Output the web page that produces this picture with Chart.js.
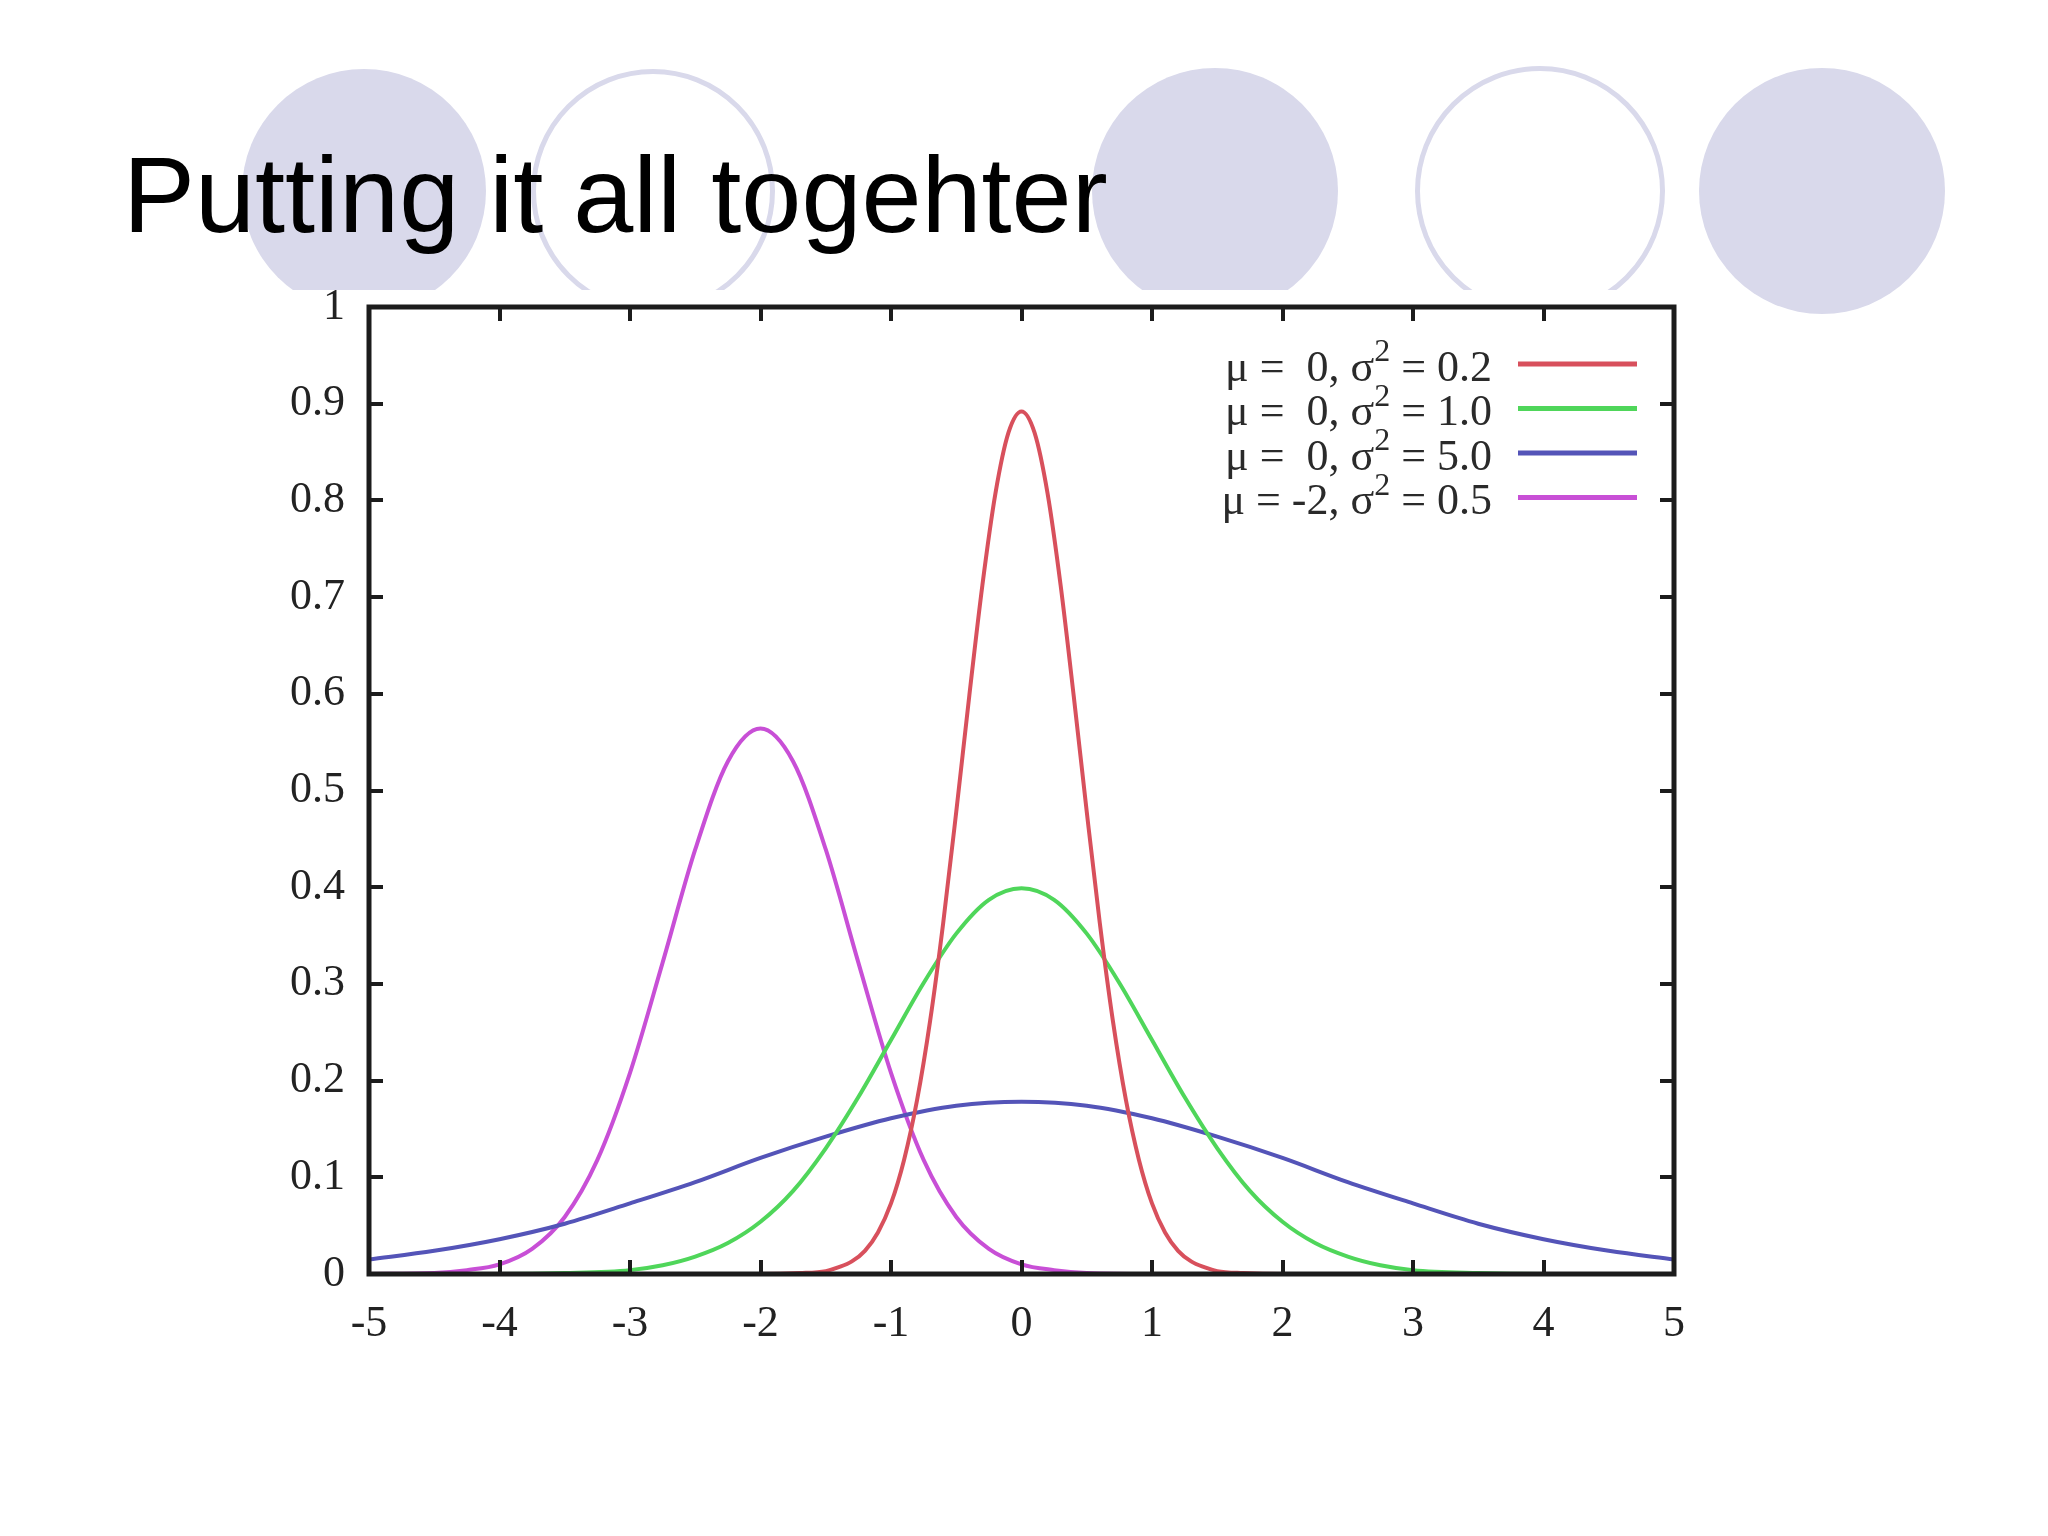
<!DOCTYPE html>
<html>
<head>
<meta charset="utf-8">
<title>Putting it all togehter</title>
<script src="https://cdn.jsdelivr.net/npm/chart.js@4.4.1/dist/chart.umd.min.js"></script>
<style>
  html, body { margin: 0; padding: 0; background: #fff; }
  body { width: 2048px; height: 1536px; position: relative; overflow: hidden; }
  .dot { position: absolute; border-radius: 50%; box-sizing: border-box; }
  .dot.fill { background: #d9d9eb; }
  .dot.ring { border: 5px solid #d9d9eb; }
  h1 { position: absolute; left: 123px; top: 141px; margin: 0; font: 400 108px/108px "Liberation Sans", Arial, sans-serif; color: #000; white-space: nowrap; }
  #chart { position: absolute; left: 0; top: 0; }
</style>
</head>
<body>
<div class="dot fill" style="left:242px;top:69px;width:244px;height:244px"></div>
<div class="dot ring" style="left:531px;top:69px;width:244px;height:244px"></div>
<div class="dot fill" style="left:1092px;top:68px;width:246px;height:246px"></div>
<div class="dot ring" style="left:1415px;top:66px;width:250px;height:250px"></div>
<div class="dot fill" style="left:1699px;top:68px;width:246px;height:246px"></div>
<h1>Putting it all togehter</h1>
<canvas id="chart" width="2048" height="1536"></canvas>
<script>
// tick labels
const xTickLabels = ['-5', '-4', '-3', '-2', '-1', '0', '1', '2', '3', '4', '5'];
const yTickLabels = ['0', '0.1', '0.2', '0.3', '0.4', '0.5', '0.6', '0.7', '0.8', '0.9', '1'];

// legend entries, top to bottom
const seriesLabels = ['μ =  0, σ² = 0.2', 'μ =  0, σ² = 1.0', 'μ =  0, σ² = 5.0', 'μ = -2, σ² = 0.5'];

// mu = 0, var = 0.2 (red)
const redX = [-5, -2, -1.7, -1.5, -1.4, -1.3, -1.2, -1.1, -1.0, -0.9, -0.8, -0.7, -0.6, -0.5, -0.4, -0.3, -0.2, -0.1,
  0, 0.1, 0.2, 0.3, 0.4, 0.5, 0.6, 0.7, 0.8, 0.9, 1.0, 1.1, 1.2, 1.3, 1.4, 1.5, 1.7, 2, 5];
const redY = [0, 0, 0.001, 0.003, 0.007, 0.013, 0.024, 0.043, 0.073, 0.118, 0.180, 0.262, 0.363, 0.478, 0.598, 0.712, 0.807, 0.870,
  0.892, 0.870, 0.807, 0.712, 0.598, 0.478, 0.363, 0.262, 0.180, 0.118, 0.073, 0.043, 0.024, 0.013, 0.007, 0.003, 0.001, 0, 0];

// mu = 0, var = 1.0 (green)
const greenX = [-5, -4, -3.5, -3, -2.75, -2.5, -2.25, -2, -1.75, -1.5, -1.25, -1, -0.75, -0.5, -0.25,
  0, 0.25, 0.5, 0.75, 1, 1.25, 1.5, 1.75, 2, 2.25, 2.5, 2.75, 3, 3.5, 4, 5];
const greenY = [0, 0, 0.001, 0.004, 0.009, 0.018, 0.032, 0.054, 0.086, 0.130, 0.183, 0.242, 0.301, 0.352, 0.387,
  0.399, 0.387, 0.352, 0.301, 0.242, 0.183, 0.130, 0.086, 0.054, 0.032, 0.018, 0.009, 0.004, 0.001, 0, 0];

// mu = 0, var = 5.0 (blue)
const blueX = [-5, -4.5, -4, -3.5, -3, -2.5, -2, -1.5, -1, -0.5, 0, 0.5, 1, 1.5, 2, 2.5, 3, 3.5, 4, 4.5, 5];
const blueY = [0.015, 0.024, 0.036, 0.052, 0.073, 0.095, 0.120, 0.142, 0.161, 0.174, 0.178,
  0.174, 0.161, 0.142, 0.120, 0.095, 0.073, 0.052, 0.036, 0.024, 0.015];

// mu = -2, var = 0.5 (magenta)
const magentaX = [-5, -4.5, -4.25, -4, -3.75, -3.5, -3.25, -3, -2.75, -2.5, -2.25, -2,
  -1.75, -1.5, -1.25, -1, -0.75, -0.5, -0.25, 0, 0.25, 0.5, 1, 5];
const magentaY = [0, 0.001, 0.004, 0.010, 0.026, 0.059, 0.118, 0.208, 0.322, 0.439, 0.530, 0.564,
  0.530, 0.439, 0.322, 0.208, 0.118, 0.059, 0.026, 0.010, 0.004, 0.001, 0, 0];

function toPoints(xs, ys) {
  return xs.map((x, i) => ({ x: x, y: ys[i] }));
}

const serifFont = '"Liberation Serif", "Times New Roman", serif';

// white sheet behind the plot (covers the bottom of the circles)
const sheetPlugin = {
  id: 'sheet',
  beforeDraw(chart) {
    const ctx = chart.ctx;
    ctx.save();
    ctx.fillStyle = '#ffffff';
    ctx.fillRect(200, 290, 1500, 1246);
    ctx.restore();
  }
};

// gnuplot style border with inward ticks on all four sides
const framePlugin = {
  id: 'frame',
  afterDatasetsDraw(chart) {
    const { ctx, chartArea: a, scales } = chart;
    const len = 14;
    ctx.save();
    ctx.strokeStyle = '#1c1c1c';
    ctx.lineWidth = 4;
    ctx.beginPath();
    scales.x.ticks.forEach(t => {
      const px = Math.round(scales.x.getPixelForValue(t.value));
      ctx.moveTo(px, a.bottom); ctx.lineTo(px, a.bottom - len);
      ctx.moveTo(px, a.top); ctx.lineTo(px, a.top + len);
    });
    scales.y.ticks.forEach(t => {
      const py = Math.round(scales.y.getPixelForValue(t.value));
      ctx.moveTo(a.left, py); ctx.lineTo(a.left + len, py);
      ctx.moveTo(a.right, py); ctx.lineTo(a.right - len, py);
    });
    ctx.stroke();
    ctx.lineWidth = 5;
    ctx.strokeRect(a.left, a.top, a.right - a.left, a.bottom - a.top);
    ctx.restore();
  }
};

// key in the upper right corner: text first, line sample after it
const keyPlugin = {
  id: 'key',
  afterDraw(chart) {
    const { ctx, chartArea: a } = chart;
    const mainFont = '44px ' + serifFont;
    const supFont = '32px ' + serifFont;
    ctx.save();
    ctx.fillStyle = '#2a2a2a';
    ctx.textAlign = 'left';
    ctx.textBaseline = 'middle';
    chart.data.datasets.forEach((ds, i) => {
      const y = a.top + 57 + i * 44.5;
      // label is split round the "²" so the exponent can be set larger and higher
      const parts = ds.label.split('²');
      ctx.font = mainFont;
      const w0 = ctx.measureText(parts[0]).width;
      const w2 = ctx.measureText(parts[1]).width;
      ctx.font = supFont;
      const w1 = ctx.measureText('2').width;
      let x = a.right - 182 - (w0 + w1 + w2);
      ctx.font = mainFont;
      ctx.fillText(parts[0], x, y + 5);
      x += w0;
      ctx.font = supFont;
      ctx.fillText('2', x, y - 11);
      x += w1;
      ctx.font = mainFont;
      ctx.fillText(parts[1], x, y + 5);

      ctx.strokeStyle = ds.borderColor;
      ctx.lineWidth = 5;
      ctx.beginPath();
      ctx.moveTo(a.right - 156, y);
      ctx.lineTo(a.right - 37, y);
      ctx.stroke();
    });
    ctx.restore();
  }
};

const lineStyle = { borderWidth: 4, pointRadius: 0, fill: false, cubicInterpolationMode: 'monotone' };

new Chart(document.getElementById('chart').getContext('2d'), {
  type: 'line',
  data: {
    datasets: [
      Object.assign({ label: seriesLabels[0], data: toPoints(redX, redY), borderColor: '#d8505c' }, lineStyle),
      Object.assign({ label: seriesLabels[1], data: toPoints(greenX, greenY), borderColor: '#4fd65a' }, lineStyle),
      Object.assign({ label: seriesLabels[2], data: toPoints(blueX, blueY), borderColor: '#5454b8' }, lineStyle),
      Object.assign({ label: seriesLabels[3], data: toPoints(magentaX, magentaY), borderColor: '#c84fd6' }, lineStyle)
    ]
  },
  options: {
    responsive: false,
    animation: false,
    devicePixelRatio: 1,
    layout: { padding: { left: 240, right: 374, top: 307, bottom: 182 } },
    plugins: {
      legend: { display: false },
      tooltip: { enabled: false }
    },
    scales: {
      x: {
        type: 'linear',
        min: -5,
        max: 5,
        grid: { display: false, drawTicks: false },
        border: { display: false },
        ticks: {
          stepSize: 1,
          padding: 24,
          color: '#222',
          font: { family: serifFont, size: 44 },
          callback: (v, i) => xTickLabels[i]
        },
        afterFit: s => { s.height = 80; }
      },
      y: {
        min: 0,
        max: 1,
        grid: { display: false, drawTicks: false },
        border: { display: false },
        ticks: {
          stepSize: 0.1,
          padding: 24,
          color: '#222',
          font: { family: serifFont, size: 44 },
          callback: (v, i) => yTickLabels[i]
        },
        afterFit: s => { s.width = 129; }
      }
    }
  },
  plugins: [sheetPlugin, framePlugin, keyPlugin]
});
</script>
</body>
</html>
